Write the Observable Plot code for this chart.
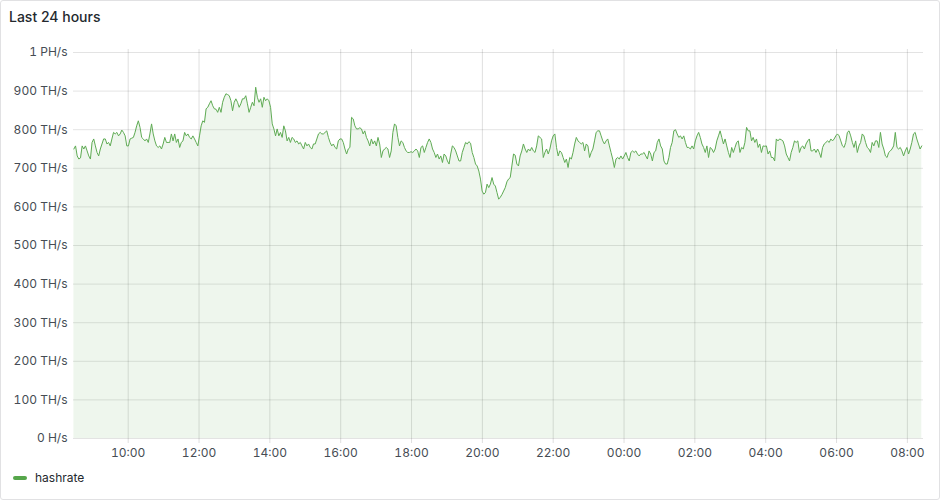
<!DOCTYPE html>
<html>
<head>
<meta charset="utf-8">
<script src="https://cdn.jsdelivr.net/npm/d3@7"></script>
<script src="https://cdn.jsdelivr.net/npm/@observablehq/plot@0.6"></script>
<style>
  html, body { margin: 0; padding: 0; background: #ffffff; }
  body { width: 940px; height: 500px; position: relative; overflow: hidden; font-family: Inter, "Noto Sans", sans-serif; }
  #panel { position: absolute; left: 0; top: 0; width: 940px; height: 500px; box-sizing: border-box; border: 1px solid #e1e1e3; border-radius: 3px; }
  #title { position: absolute; left: 9px; top: 8px; font-size: 14px; font-weight: 500; color: #24292e; }
  #chart { position: absolute; left: 0; top: 41px; }
  #legend { position: absolute; left: 13px; top: 470px; font-size: 12px; color: #24292e; display: flex; align-items: center; }
  #legend .sw { width: 14px; height: 4px; border-radius: 2px; background: #56a64b; margin-right: 8px; }
</style>
</head>
<body>
<div id="panel"></div>
<div id="title">Last 24 hours</div>
<div id="chart"></div>
<div id="legend"><span class="sw"></span><span>hashrate</span></div>
<script>
// Series: hashrate in TH/s, one sample every 168 s starting 08:28
const seriesName = "hashrate";
const startTime = "2024-01-01T08:28:00Z";
const stepSeconds = 168;
const domainStart = "2024-01-01T08:27:20Z";
const domainEnd = "2024-01-02T08:27:20Z";
const hashrate = [
  750,758,732,724,727,758,750,758,745,732,
  724,767,776,758,741,732,750,763,776,776,
  763,767,758,776,793,789,793,784,789,799,
  793,784,758,758,776,778,780,793,810,823,
  806,780,776,771,776,767,789,815,789,771,
  758,754,758,750,763,780,767,767,767,789,
  771,789,767,776,754,767,771,793,784,789,
  780,776,784,776,767,758,784,810,823,819,
  854,858,867,875,862,854,
  853,845,858,845,871,884,893,891,888,875,
  849,871,880,871,858,867,880,880,888,867,
  845,858,871,862,910,884,871,880,858,884,
  875,880,875,858,815,802,784,802,784,793,
  780,810,797,771,780,767,780,776,767,771,
  763,767,758,750,767,758,763,754,750,763,
  763,776,789,793,789,789,793,797,780,767,
  758,763,754,750,771,776,776,767,750,737,
  750,754,832,828,810,802,
  802,805,802,789,797,780,771,758,776,763,
  771,758,780,763,728,745,750,754,750,728,
  745,793,815,810,780,758,771,767,754,745,
  741,741,743,741,745,750,745,728,754,758,
  741,754,767,776,767,750,741,728,737,724,
  732,715,737,732,719,711,737,758,754,745,
  732,719,719,741,754,767,763,769,765,741,
  728,711,706,693,672,641,633,637,659,650,
  659,676,659,654,637,620,
  625,632,641,650,665,672,676,706,737,734,
  711,706,732,745,763,750,741,750,745,754,
  745,741,758,784,780,776,728,741,750,737,
  750,771,784,789,754,732,745,741,728,715,
  724,702,728,724,741,763,780,771,767,763,
  767,745,763,758,728,741,750,771,793,797,
  797,784,771,763,771,776,758,741,724,702,
  724,728,724,732,724,732,741,728,719,741,
  745,741,745,737,732,737,
  737,741,732,724,745,737,719,741,745,767,
  776,758,750,719,711,711,728,754,767,797,
  800,789,780,784,776,784,767,754,754,750,
  758,750,771,784,793,780,763,754,741,758,
  728,754,750,741,750,771,784,797,780,763,
  776,758,741,728,754,741,754,767,771,741,
  754,750,767,806,797,797,771,780,767,776,
  754,763,741,758,757,758,737,745,728,728,
  719,776,771,776,774,771,
  758,737,728,719,741,754,771,767,771,741,
  754,758,750,763,771,776,745,745,750,741,
  750,741,728,754,763,767,771,767,776,771,
  776,784,789,784,771,758,754,767,793,797,
  784,767,754,771,741,758,767,789,784,767,
  754,750,741,767,758,771,771,754,793,763,
  750,732,728,741,745,750,758,793,754,750,
  754,745,732,745,754,737,750,767,789,793,
  776,763,750,758
];
const yTicks = [0,100,200,300,400,500,600,700,800,900,1000];
function yLabel(v) {
  if (v === 0) return "0 H/s";
  if (v >= 1000) return (v / 1000) + " PH/s";
  return v + " TH/s";
}

const t0 = new Date(startTime).getTime();
const data = hashrate.map((v, i) => ({ t: new Date(t0 + i * stepSeconds * 1000), v, series: seriesName }));
const xDomain = [new Date(domainStart), new Date(domainEnd)];
const xTicks = d3.utcHour.every(2).range(xDomain[0], xDomain[1]);

const chart = Plot.plot({
  width: 940,
  height: 425,
  marginLeft: 73,
  marginRight: 17,
  marginTop: 11,
  marginBottom: 28,
  style: { fontFamily: "Inter, 'Noto Sans', sans-serif", fontSize: "12px", color: "#464c54", background: "transparent" },
  x: { type: "utc", domain: xDomain, ticks: xTicks, tickFormat: d3.utcFormat("%H:%M"), tickSize: 0, tickPadding: 10, label: null },
  y: { domain: [0, 1000], ticks: yTicks, tickFormat: yLabel, tickSize: 0, tickPadding: 6, label: null },
  marks: [
    Plot.ruleY(yTicks, { stroke: "#000", strokeOpacity: 0.11 }),
    Plot.ruleX(xTicks, { stroke: "#000", strokeOpacity: 0.13, insetTop: -3, insetBottom: -5 }),
    Plot.areaY(data, { x: "t", y: "v", fill: "#56a64b", fillOpacity: 0.1 }),
    Plot.lineY(data, { x: "t", y: "v", stroke: "#5fab54", strokeWidth: 1 })
  ]
});
document.getElementById("chart").appendChild(chart);
</script>
</body>
</html>
